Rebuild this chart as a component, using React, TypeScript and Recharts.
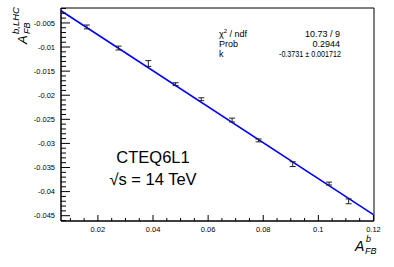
import React from 'react';
import { ComposedChart, Scatter, XAxis, YAxis, ErrorBar, ReferenceLine, ReferenceArea } from 'recharts';

const xValues = [0.016, 0.0275, 0.0383, 0.0482, 0.0575, 0.0687, 0.0783, 0.0907, 0.1039, 0.111];
const yValues = [-0.00583, -0.01021, -0.01342, -0.01771, -0.02083, -0.02515, -0.02938, -0.03431, -0.03833, -0.04202];
const yErrors = [0.0004, 0.0004, 0.0006, 0.0003, 0.0003, 0.0004, 0.0003, 0.0005, 0.0003, 0.0005];
const fitSlope = -0.3731;
const xDomain: [number, number] = [0.0066, 0.1202];
const yDomain: [number, number] = [-0.0461, -0.0019];
const xMajorTicks = [0.02, 0.04, 0.06, 0.08, 0.1, 0.12];
const xTickLabels = ['0.02', '0.04', '0.06', '0.08', '0.1', '0.12'];
const xMinorTicks = [0.01, 0.015, 0.025, 0.03, 0.035, 0.045, 0.05, 0.055, 0.065, 0.07, 0.075, 0.085, 0.09, 0.095, 0.105, 0.11, 0.115];
const yMajorTicks = [-0.005, -0.01, -0.015, -0.02, -0.025, -0.03, -0.035, -0.04, -0.045];
const yTickLabels = ['-0.005', '-0.01', '-0.015', '-0.02', '-0.025', '-0.03', '-0.035', '-0.04', '-0.045'];
const yMinorTicks: number[] = [];
for (let i = 2; i <= 46; i++) if (i % 5 !== 0) yMinorTicks.push(-i / 1000);

const statNames = ['ndf', 'Prob', 'k'];
const statValues = ['10.73 / 9', '0.2944', '-0.3731 \u00b1 0.001712'];
const annotation = ['CTEQ6L1', '\u221as = 14 TeV'];

const data = xValues.map((x, i) => ({ x, y: yValues[i], err: yErrors[i] }));

const FONT = 'Liberation Sans, Arial, Helvetica, sans-serif';

const findIdx = (arr: number[], v: number) => arr.findIndex((a) => Math.abs(a - v) < 1e-7);

const XTick = (props: any) => {
  const { x, y, payload } = props;
  const idx = findIdx(xMajorTicks, payload.value);
  if (idx >= 0) {
    return (
      <g>
        <line x1={x} y1={y} x2={x} y2={y - 6} stroke="#000" strokeWidth={1} />
        <text x={x} y={y + 10.5} textAnchor="middle" fontSize={7.5} fontFamily={FONT} fill="#000">{xTickLabels[idx]}</text>
      </g>
    );
  }
  return <line x1={x} y1={y} x2={x} y2={y - 3} stroke="#000" strokeWidth={1} />;
};

const YTick = (props: any) => {
  const { x, y, payload } = props;
  const idx = findIdx(yMajorTicks, payload.value);
  if (idx >= 0) {
    return (
      <g>
        <line x1={x} y1={y} x2={x + 9} y2={y} stroke="#000" strokeWidth={1} />
        <text x={x - 6} y={y + 2.8} textAnchor="end" fontSize={7.5} fontFamily={FONT} fill="#000">{yTickLabels[idx]}</text>
      </g>
    );
  }
  return <line x1={x} y1={y} x2={x + 5} y2={y} stroke="#000" strokeWidth={1} />;
};

export default function App() {
  return (
    <div style={{ position: 'absolute', left: 0, top: 0, width: 394, height: 267, background: '#fff' }}>
      <ComposedChart width={394} height={267} data={data} margin={{ top: 8, right: 20, left: 0, bottom: 0 }}>
        <XAxis
          type="number"
          dataKey="x"
          domain={xDomain}
          ticks={[...xMajorTicks, ...xMinorTicks]}
          interval={0}
          tick={<XTick />}
          tickLine={false}
          tickSize={0}
          tickMargin={0}
          height={46}
          allowDataOverflow
          axisLine={{ stroke: '#000', strokeWidth: 1 }}
        />
        <YAxis
          type="number"
          dataKey="y"
          domain={yDomain}
          ticks={[...yMajorTicks, ...yMinorTicks]}
          interval={0}
          tick={<YTick />}
          tickLine={false}
          tickSize={0}
          tickMargin={0}
          width={61}
          allowDataOverflow
          axisLine={{ stroke: '#000', strokeWidth: 1 }}
        />
        <ReferenceArea x1={xDomain[0]} x2={xDomain[1]} y1={yDomain[0]} y2={yDomain[1]} fill="none" fillOpacity={0} stroke="#000" strokeWidth={1} ifOverflow="visible" />
        <ReferenceLine
          segment={[
            { x: xDomain[0], y: fitSlope * xDomain[0] },
            { x: 0.12, y: fitSlope * 0.12 },
          ]}
          stroke="#0000ff"
          strokeWidth={1.6}
          ifOverflow="visible"
        />
        <Scatter dataKey="y" isAnimationActive={false} shape={() => <g />}>
          <ErrorBar dataKey="err" direction="y" width={3} stroke="#222" strokeWidth={1} isAnimationActive={false} />
        </Scatter>
      </ComposedChart>
      <svg width={394} height={267} style={{ position: 'absolute', left: 0, top: 0, pointerEvents: 'none' }} fontFamily={FONT}>
        {/* stats */}
        <text x={219} y={36.5} fontSize={9} fill="#000">
          <tspan>{'\u03c7'}</tspan>
          <tspan fontSize={6} dy={-3.5}>2</tspan>
          <tspan dy={3.5}>{' / ' + statNames[0]}</tspan>
        </text>
        <text x={219} y={46.5} fontSize={9} fill="#000">{statNames[1]}</text>
        <text x={219} y={56.5} fontSize={9} fill="#000">{statNames[2]}</text>
        <text x={340} y={36.5} fontSize={9} fill="#000" textAnchor="end">{statValues[0]}</text>
        <text x={340} y={46.5} fontSize={9} fill="#000" textAnchor="end">{statValues[1]}</text>
        <text x={341} y={56.5} fontSize={9} fill="#000" textAnchor="end" textLength={62} lengthAdjust="spacingAndGlyphs">{statValues[2]}</text>
        {/* annotation */}
        <text x={153} y={163} fontSize={16.5} fill="#000" textAnchor="middle">{annotation[0]}</text>
        <text x={153} y={185} fontSize={16.5} fill="#000" textAnchor="middle">{annotation[1]}</text>
        {/* y title */}
        <g transform="translate(27,44) rotate(-90)">
          <text x={0} y={0} fontSize={13} fontStyle="italic" fill="#000">A</text>
          <text x={10} y={-8.5} fontSize={9.5} fontStyle="italic" fill="#000">b,LHC</text>
          <text x={10} y={3} fontSize={9} fontStyle="italic" fill="#000">FB</text>
        </g>
        {/* x title */}
        <text x={355} y={251} fontSize={14} fontStyle="italic" fill="#000">A</text>
        <text x={366} y={242} fontSize={9} fontStyle="italic" fill="#000">b</text>
        <text x={365} y={254} fontSize={9} fontStyle="italic" fill="#000">FB</text>
      </svg>
    </div>
  );
}
